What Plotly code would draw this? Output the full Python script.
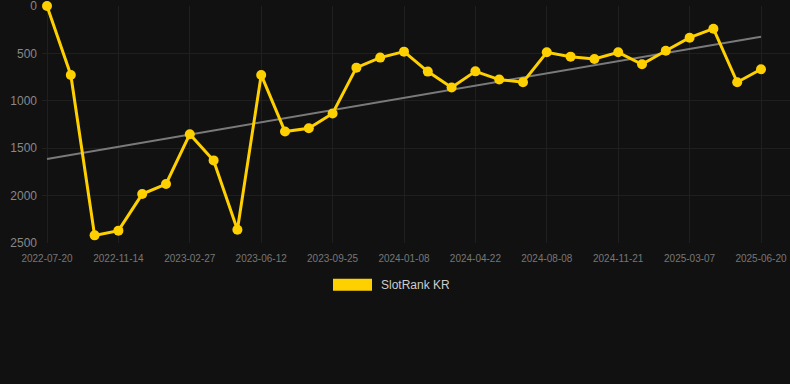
import plotly.graph_objects as go

dates = [
    "2022-07-20", "2022-08-28", "2022-10-06", "2022-11-14", "2022-12-19",
    "2023-01-23", "2023-02-27", "2023-04-03", "2023-05-08", "2023-06-12",
    "2023-07-17", "2023-08-21", "2023-09-25", "2023-10-30", "2023-12-04",
    "2024-01-08", "2024-02-12", "2024-03-18", "2024-04-22", "2024-05-27",
    "2024-07-02", "2024-08-08", "2024-09-11", "2024-10-16", "2024-11-21",
    "2024-12-25", "2025-01-30", "2025-03-07", "2025-04-10", "2025-05-15",
    "2025-06-20",
]
rank_kr = [
    0, 727, 2420, 2370, 1984, 1878, 1352, 1629, 2360, 727,
    1324, 1289, 1134, 650, 544, 481, 692, 860, 689, 776,
    804, 488, 534, 558, 488, 615, 471, 334, 239, 804,
    667,
]
trend_x = [dates[0], dates[-1]]
trend_y = [1615, 323]
tick_labels = dates[::3]
y_ticks = [0, 500, 1000, 1500, 2000, 2500]
series_name = "SlotRank KR"

YELLOW = "#FFD000"
BG = "#111111"
GRID = "#1f1f1f"

fig = go.Figure()
fig.add_trace(go.Scatter(
    x=trend_x, y=trend_y, mode="lines",
    line=dict(color="#7a7a7a", width=2),
    showlegend=False, hoverinfo="skip",
))
fig.add_trace(go.Scatter(
    x=dates, y=rank_kr, mode="lines+markers",
    line=dict(color=YELLOW, width=3),
    marker=dict(color=YELLOW, size=10),
    name=series_name, showlegend=False, cliponaxis=False,
))

W, H = 790, 384
left, right_px = 42, 790
top, bottom_px = 6, 243.3
step = (761 - 47) / 30.0
x0 = -(47 - left) / step
x1 = 30 + (right_px - 761) / step

fig.update_layout(
    width=W, height=H,
    paper_bgcolor=BG, plot_bgcolor=BG,
    margin=dict(l=left, r=W - right_px, t=top, b=H - bottom_px),
    font=dict(family="Liberation Sans, Arial, sans-serif", color="#888"),
    xaxis=dict(
        type="category", categoryorder="array", categoryarray=dates,
        range=[x0, x1], tickvals=tick_labels, ticktext=tick_labels,
        tickfont=dict(size=10, color="#777"), showgrid=True,
        gridcolor=GRID, gridwidth=1, zeroline=False, showline=False,
        ticks="", ticklabelstandoff=8, ticklabeloverflow="allow",
    ),
    yaxis=dict(
        range=[2500.5, -0.5], tickvals=y_ticks,
        tickfont=dict(size=12, color="#888"), showgrid=True,
        gridcolor=GRID, gridwidth=1, zeroline=False, showline=False,
        ticks="", ticklabelstandoff=4, ticklabeloverflow="allow",
    ),
    showlegend=False,
)

# Legend key
fig.add_shape(type="rect", xref="paper", yref="paper",
              x0=(333 - left) / (right_px - left), x1=(372 - left) / (right_px - left),
              y0=(bottom_px - 291) / (bottom_px - top), y1=(bottom_px - 279) / (bottom_px - top),
              fillcolor=YELLOW, line=dict(width=0))
fig.add_annotation(text=series_name, xref="paper", yref="paper",
                   x=(379 - left) / (right_px - left), y=(bottom_px - 285) / (bottom_px - top),
                   xanchor="left", yanchor="middle", showarrow=False,
                   font=dict(size=12, color="#cccccc"))

fig.write_html(
    "out.html",
    config={"displayModeBar": False},
    post_script="document.body.style.margin='0';document.body.style.background='#111111';",
)
